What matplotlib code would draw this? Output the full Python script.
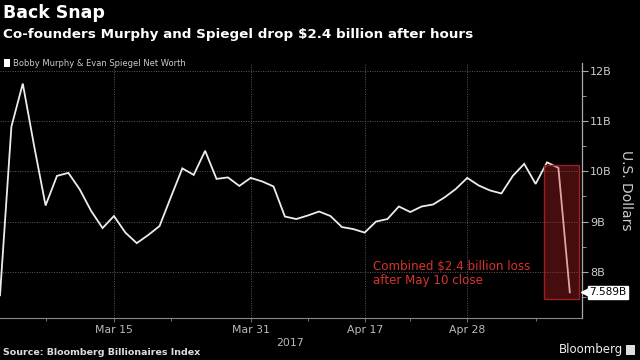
import matplotlib
matplotlib.use("Agg")
import matplotlib.pyplot as plt
from matplotlib.patches import Rectangle

# Data: trading-day index positions (0 = Mar 1, 2017), values in $B
values = [7.53, 10.89, 11.75, 10.50, 9.32, 9.91, 9.97, 9.64, 9.21, 8.87,
          9.11, 8.78, 8.57, 8.73, 8.91, 9.49, 10.06, 9.93, 10.41, 9.85,
          9.88, 9.71, 9.87, 9.80, 9.70, 9.10, 9.05, 9.12, 9.20, 9.11,
          8.89, 8.85, 8.78, 9.00, 9.05, 9.30, 9.19, 9.30, 9.34, 9.48,
          9.65, 9.87, 9.72, 9.62, 9.56, 9.91, 10.15, 9.75, 10.18, 10.07,
          7.589]
x_idx = list(range(len(values)))
tick_pos = [10, 22, 32, 41]
tick_labels = ["Mar 15", "Mar 31", "Apr 17", "Apr 28"]
minor_pos = [4, 15, 27, 36, 47]
y_ticks = [8, 9, 10, 11, 12]
y_tick_labels = ["8B", "9B", "10B", "11B", "12B"]
last_label = "7.589B"

BG = "black"
fig = plt.figure(figsize=(6.4, 3.6), dpi=100, facecolor=BG)
ax = fig.add_axes([0.0, 0.117, 0.909, 0.708], facecolor=BG)

ax.plot(x_idx, values, color="#ececec", lw=1.3, zorder=3, solid_joinstyle="miter")

XMAX = 51.05
ax.set_xlim(0, XMAX)
ax.set_ylim(7.08, 12.16)

# highlight rectangle
rect = Rectangle((47.7, 7.46), 50.85 - 47.7, 10.12 - 7.46,
                 facecolor="#c62828", alpha=0.35, edgecolor="none", zorder=4)
ax.add_patch(rect)
rect2 = Rectangle((47.7, 7.46), 50.85 - 47.7, 10.12 - 7.46,
                  facecolor="none", edgecolor="#9c2020", lw=1.0, zorder=5)
ax.add_patch(rect2)

ax.text(32.75, 7.97, "Combined $2.4 billion loss\nafter May 10 close",
        color="#d8332f", fontsize=8.6, ha="left", va="center", linespacing=1.1,
        zorder=6)

# axes styling
ax.yaxis.tick_right()
ax.yaxis.set_label_position("right")
ax.set_yticks(y_ticks)
ax.set_yticklabels(y_tick_labels)
ax.set_yticks([7.5, 8.5, 9.5, 10.5, 11.5], minor=True)
ax.set_xticks(tick_pos)
ax.set_xticklabels(tick_labels)
ax.set_xticks(minor_pos, minor=True)
ax.tick_params(axis="y", which="major", colors="#aaaaaa", labelcolor="#cccccc",
               labelsize=8, length=4, width=0.8, direction="out", pad=2)
ax.tick_params(axis="y", which="minor", colors="#aaaaaa", length=3, width=0.6)
ax.tick_params(axis="x", which="major", colors="#888888", labelcolor="#bbbbbb",
               labelsize=7.8, length=3, width=0.6, pad=2)
ax.tick_params(axis="x", which="minor", colors="#888888", length=2, width=0.6)

for s in ["top", "left"]:
    ax.spines[s].set_visible(False)
ax.spines["right"].set_color("#aaaaaa")
ax.spines["right"].set_linewidth(0.9)
ax.spines["bottom"].set_color("#888888")
ax.spines["bottom"].set_linewidth(0.8)

ax.grid(True, which="major", color="#5a5a5a", ls=(0, (1, 1.5)), lw=0.7)
ax.set_ylabel("U.S. Dollars", color="#cccccc", fontsize=10, rotation=-90)
ax.yaxis.set_label_coords(1.088, 0.5)

# last value label (white tag with pointed left edge)
ax.plot([XMAX + 0.32], [values[-1]], marker="<", ms=6, color="white",
        mec="white", clip_on=False, zorder=7)
ax.annotate(last_label, xy=(XMAX, values[-1]), xycoords="data",
            xytext=(5.5, 0), textcoords="offset points",
            ha="left", va="center", fontsize=7.6, color="black",
            bbox=dict(boxstyle="square,pad=0.12", fc="white", ec="white"),
            annotation_clip=False, zorder=8)

fig.text(0.453, 0.047, "2017", color="#bbbbbb", fontsize=7.8, ha="center",
         va="center")

# titles
fig.text(0.004, 0.963, "Back Snap", color="white", fontsize=12.5, fontweight="bold",
         ha="left", va="center")
fig.text(0.004, 0.905, "Co-founders Murphy and Spiegel drop $2.4 billion after hours",
         color="white", fontsize=9.7, fontweight="bold", ha="left", va="center")

# legend
fig.patches.append(Rectangle((0.006, 0.813), 0.009, 0.022, transform=fig.transFigure,
                             facecolor="white", edgecolor="none"))
fig.text(0.02, 0.823, "Bobby Murphy & Evan Spiegel Net Worth", color="#cccccc",
         fontsize=6.0, ha="left", va="center")

fig.text(0.004, 0.022, "Source: Bloomberg Billionaires Index", color="#dddddd",
         fontsize=6.8, fontweight="bold", ha="left", va="center")
fig.text(0.973, 0.028, "Bloomberg", color="#eeeeee", fontsize=8.5,
         ha="right", va="center")
fig.patches.append(Rectangle((0.978, 0.015), 0.014, 0.028, transform=fig.transFigure,
                             facecolor="#dddddd", edgecolor="none"))

fig.savefig("out.png", dpi=100, facecolor=BG)
